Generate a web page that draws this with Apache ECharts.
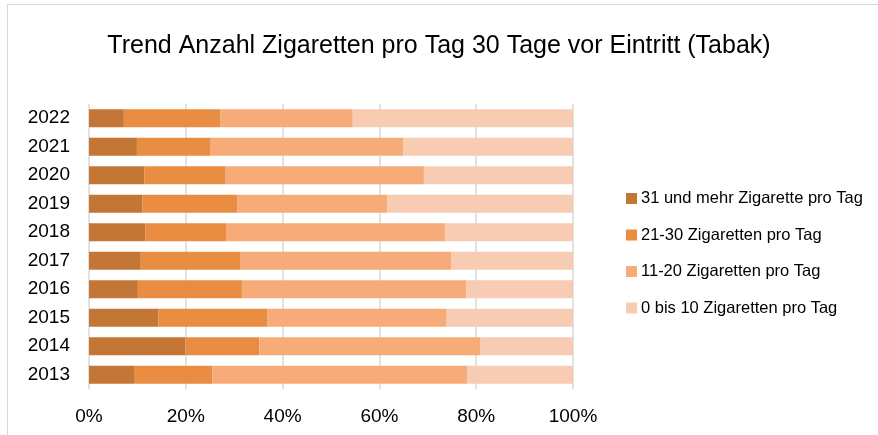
<!DOCTYPE html>
<html>
<head>
<meta charset="utf-8">
<script src="https://cdn.jsdelivr.net/npm/echarts@6/dist/echarts.min.js"></script>
<style>
  html, body { margin: 0; padding: 0; background: #fff; }
  #chart { width: 878px; height: 435px; }
</style>
</head>
<body>
<div id="chart"></div>
<script>
  // Jahre, unten nach oben
  const years = ['2013', '2014', '2015', '2016', '2017', '2018', '2019', '2020', '2021', '2022'];
  const seriesNames = [
    '31 und mehr Zigarette pro Tag',
    '21-30 Zigaretten pro Tag',
    '11-20 Zigaretten pro Tag',
    '0 bis 10 Zigaretten pro Tag'
  ];
  // Anteile in %
  const over30 = [9.3, 19.9, 14.3, 10.1, 10.7, 11.6, 11.0, 11.4, 9.9, 7.2];
  const from21to30 = [16.2, 15.3, 22.6, 21.5, 20.5, 16.7, 19.6, 16.7, 15.1, 20.0];
  const from11to20 = [52.7, 45.6, 37.0, 46.4, 43.7, 45.3, 31.0, 41.1, 39.9, 27.3];
  const upTo10 = [21.8, 19.2, 26.1, 22.0, 25.1, 26.4, 38.4, 30.8, 35.1, 45.5];
  const colors = ['#C37636', '#E88D41', '#F7AB79', '#F8CBB3'];

  const font = 'Liberation Sans';
  const chart = echarts.init(document.getElementById('chart'));

  const values = [over30, from21to30, from11to20, upTo10];
  const series = values.map((data, i) => ({
    name: seriesNames[i],
    type: 'bar',
    stack: 'total',
    barWidth: 18,
    data: data,
    itemStyle: { color: colors[i] },
    emphasis: { disabled: true },
  }));

  const option = {
    animation: false,
    title: {
      text: 'Trend Anzahl Zigaretten pro Tag 30 Tage vor Eintritt (Tabak)',
      left: 'center',
      top: 29,
      textStyle: { fontFamily: font, fontSize: 25, fontWeight: 'normal', color: '#000' },
    },
    legend: {
      orient: 'vertical',
      left: 621,
      top: 185,
      itemWidth: 11,
      itemHeight: 11,
      itemGap: 19.5,
      icon: 'rect',
      data: seriesNames,
      textStyle: { fontFamily: font, fontSize: 16.5, color: '#000', padding: [0, 0, 0, -1] },
    },
    grid: { left: 89, right: 305, top: 104, bottom: 46 },
    xAxis: {
      type: 'value',
      min: 0,
      max: 100,
      interval: 20,
      axisLine: { show: false },
      axisTick: { show: false },
      splitLine: { lineStyle: { color: '#d9d9d9', width: 1.5 } },
      axisLabel: {
        formatter: '{value}%',
        margin: 18,
        fontFamily: font,
        fontSize: 19,
        color: '#000',
      },
    },
    yAxis: {
      type: 'category',
      data: years,
      axisLine: { show: false },
      axisTick: { show: false },
      axisLabel: { margin: 19, fontFamily: font, fontSize: 19, color: '#000' },
    },
    graphic: [
      { type: 'line', shape: { x1: 7.5, y1: 4, x2: 7.5, y2: 435 }, style: { stroke: '#d9d9d9', lineWidth: 1 } },
      { type: 'line', shape: { x1: 7, y1: 4.5, x2: 878, y2: 4.5 }, style: { stroke: '#d9d9d9', lineWidth: 1 } },
    ],
    series: series,
  };

  chart.setOption(option);
</script>
</body>
</html>
